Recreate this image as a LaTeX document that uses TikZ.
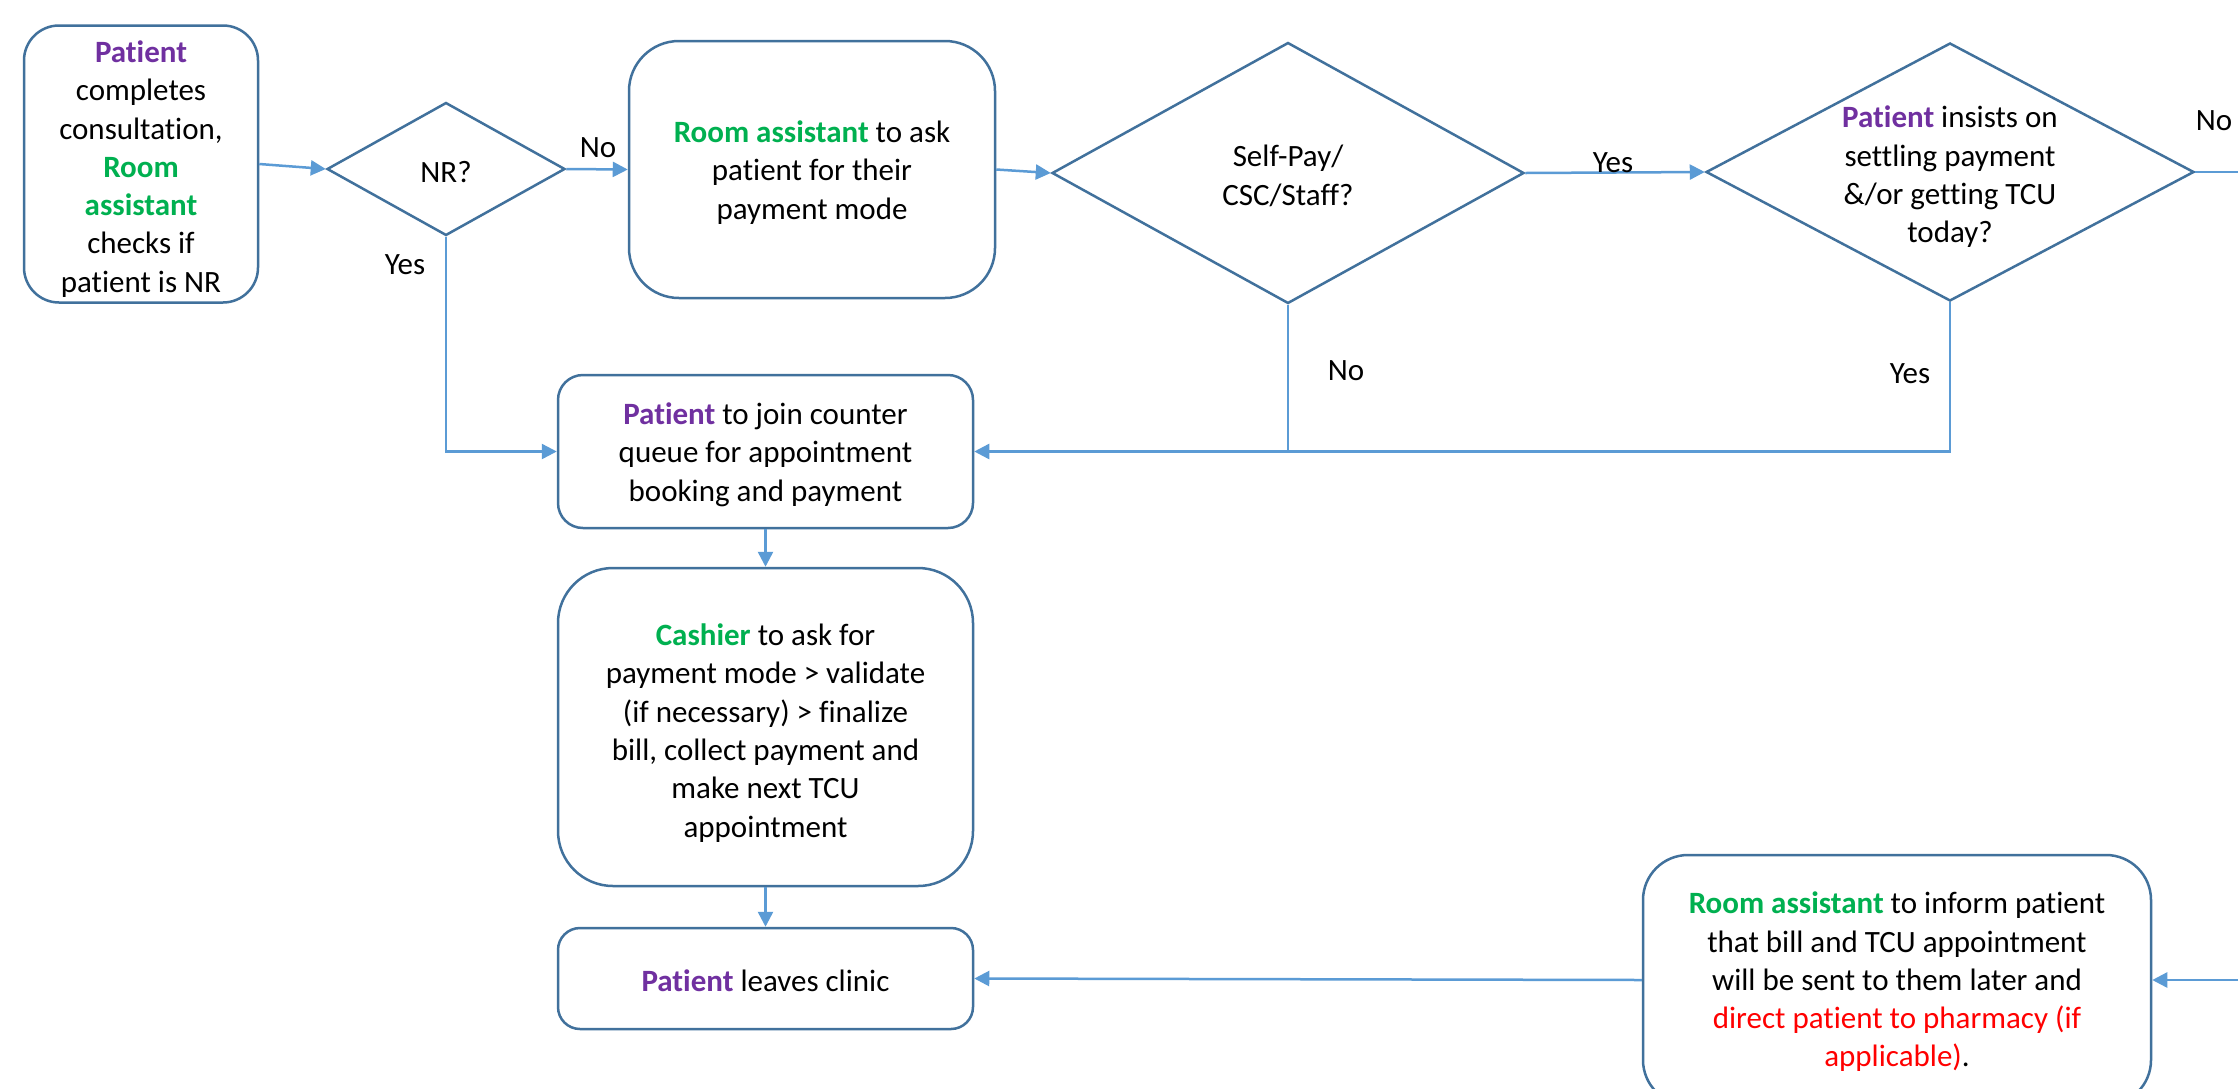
\documentclass[tikz,border=0pt]{standalone}
\usepackage{fontspec}
\setmainfont{Carlito}[Ligatures={NoCommon,NoContextual},Contextuals=NoAlternate]
\usetikzlibrary{shapes.geometric,arrows.meta}
\definecolor{pur}{HTML}{7030A0}
\definecolor{grn}{HTML}{00B050}
\definecolor{bord}{HTML}{41719C}
\definecolor{conn}{HTML}{5B9BD5}
\newcommand{\pat}{\textbf{\textcolor{pur}{Patient}}}
\newcommand{\ra}{\textbf{\textcolor{grn}{Room assistant}}}
\tikzset{
  txt/.style={align=center, inner sep=0pt, font=\fontsize{31}{38.3}\selectfont},
  box/.style={draw=bord, line width=2.5pt, fill=white, inner sep=0pt},
  dia/.style={diamond, draw=bord, line width=2.5pt, fill=white, inner sep=0pt},
  flow/.style={draw=conn, line width=2.5pt, -{Triangle[length=15pt,width=15pt]}},
  wire/.style={draw=conn, line width=2.5pt},
  lbl/.style={font=\fontsize{31}{38.3}\selectfont, inner sep=0pt}
}
\begin{document}
\begin{tikzpicture}[x=1pt,y=-1pt]
\clip (0,0) rectangle (2238,1088);
\fill[white] (0,0) rectangle (2238,1088);

\node[box, minimum width=234, minimum height=277, rounded corners=35] (b1) at (141,164) {};
\node[txt, yshift=-5pt] (b1t) at (b1)
  {\pat\\completes\\consultation,\\\textbf{\textcolor{grn}{Room}}\\\textbf{\textcolor{grn}{assistant}}\\checks if\\patient is NR};
\node[dia, minimum width=238, minimum height=133] (nr) at (446,169) {};
\node[txt, yshift=-3pt] (nrt) at (nr) {NR?};
\node[box, minimum width=366, minimum height=257, rounded corners=50] (b2) at (812,169.5) {};
\node[txt, yshift=-3pt] (b2t) at (b2) {\ra{} to ask\\patient for their\\payment mode};
\node[dia, minimum width=472, minimum height=261] (d2) at (1288,173) {};
\node[txt, yshift=-3pt] (d2t) at (d2) {Self-Pay/\\CSC/Staff?};
\node[dia, minimum width=488, minimum height=258] (d3) at (1950,172) {};
\node[txt, yshift=-5pt] (d3t) at (d3) {\pat{} insists on\\settling payment\\\&/or getting TCU\\today?};
\node[box, minimum width=415, minimum height=153, rounded corners=25] (b3) at (765.5,451.5) {};
\node[txt, yshift=-3pt] (b3t) at (b3) {\pat{} to join counter\\queue for appointment\\booking and payment};
\node[box, minimum width=415, minimum height=318, rounded corners=55] (b4) at (765.5,727) {};
\node[txt, yshift=-6pt] (b4t) at (b4)
  {\textbf{\textcolor{grn}{Cashier}} to ask for\\payment mode > validate\\(if necessary) > finalize\\bill, collect payment and\\make next TCU\\appointment};
\node[box, minimum width=415, minimum height=101, rounded corners=22] (b5) at (765.5,978.5) {};
\node[txt, yshift=-2pt] (b5t) at (b5) {\pat{} leaves clinic};
\node[box, minimum width=508, minimum height=250, rounded corners=45] (b6) at (1897,980) {};
\node[txt, yshift=-2pt] (b6t) at (b6)
  {\ra{} to inform patient\\that bill and TCU appointment\\will be sent to them later and\\\textcolor{red}{direct patient to pharmacy (if}\\\textcolor{red}{applicable)}.};

\coordinate (eastno) at (2238,172);
\coordinate (eastin) at (2238,980);

\draw[flow] (b1.east) -- (nr.west);
\draw[flow] (nr.east) -- (b2.west);
\draw[flow] (b2.east) -- (d2.west);
\draw[flow] (d2.east) -- (d3.west);
\draw[wire] (d3.east) -- (eastno);
\draw[flow] (nr.south) |- (b3.west);
\draw[wire] (d2.south) -- (d2.south |- b3.east);
\draw[flow] (d3.south) |- (b3.east);
\draw[flow] (b3.south) -- (b4.north);
\draw[flow] (b4.south) -- (b5.north);
\draw[flow] (b6.west) -- (b5.east);
\draw[flow] (eastin) -- (b6.east);

\node[lbl] (l1) at (598,148) {No};
\node[lbl] (l2) at (1613,163) {Yes};
\node[lbl] (l3) at (2214,121) {No};
\node[lbl] (l4) at (405,265) {Yes};
\node[lbl] (l5) at (1346,371) {No};
\node[lbl] (l6) at (1910,374) {Yes};
\end{tikzpicture}
\end{document}
